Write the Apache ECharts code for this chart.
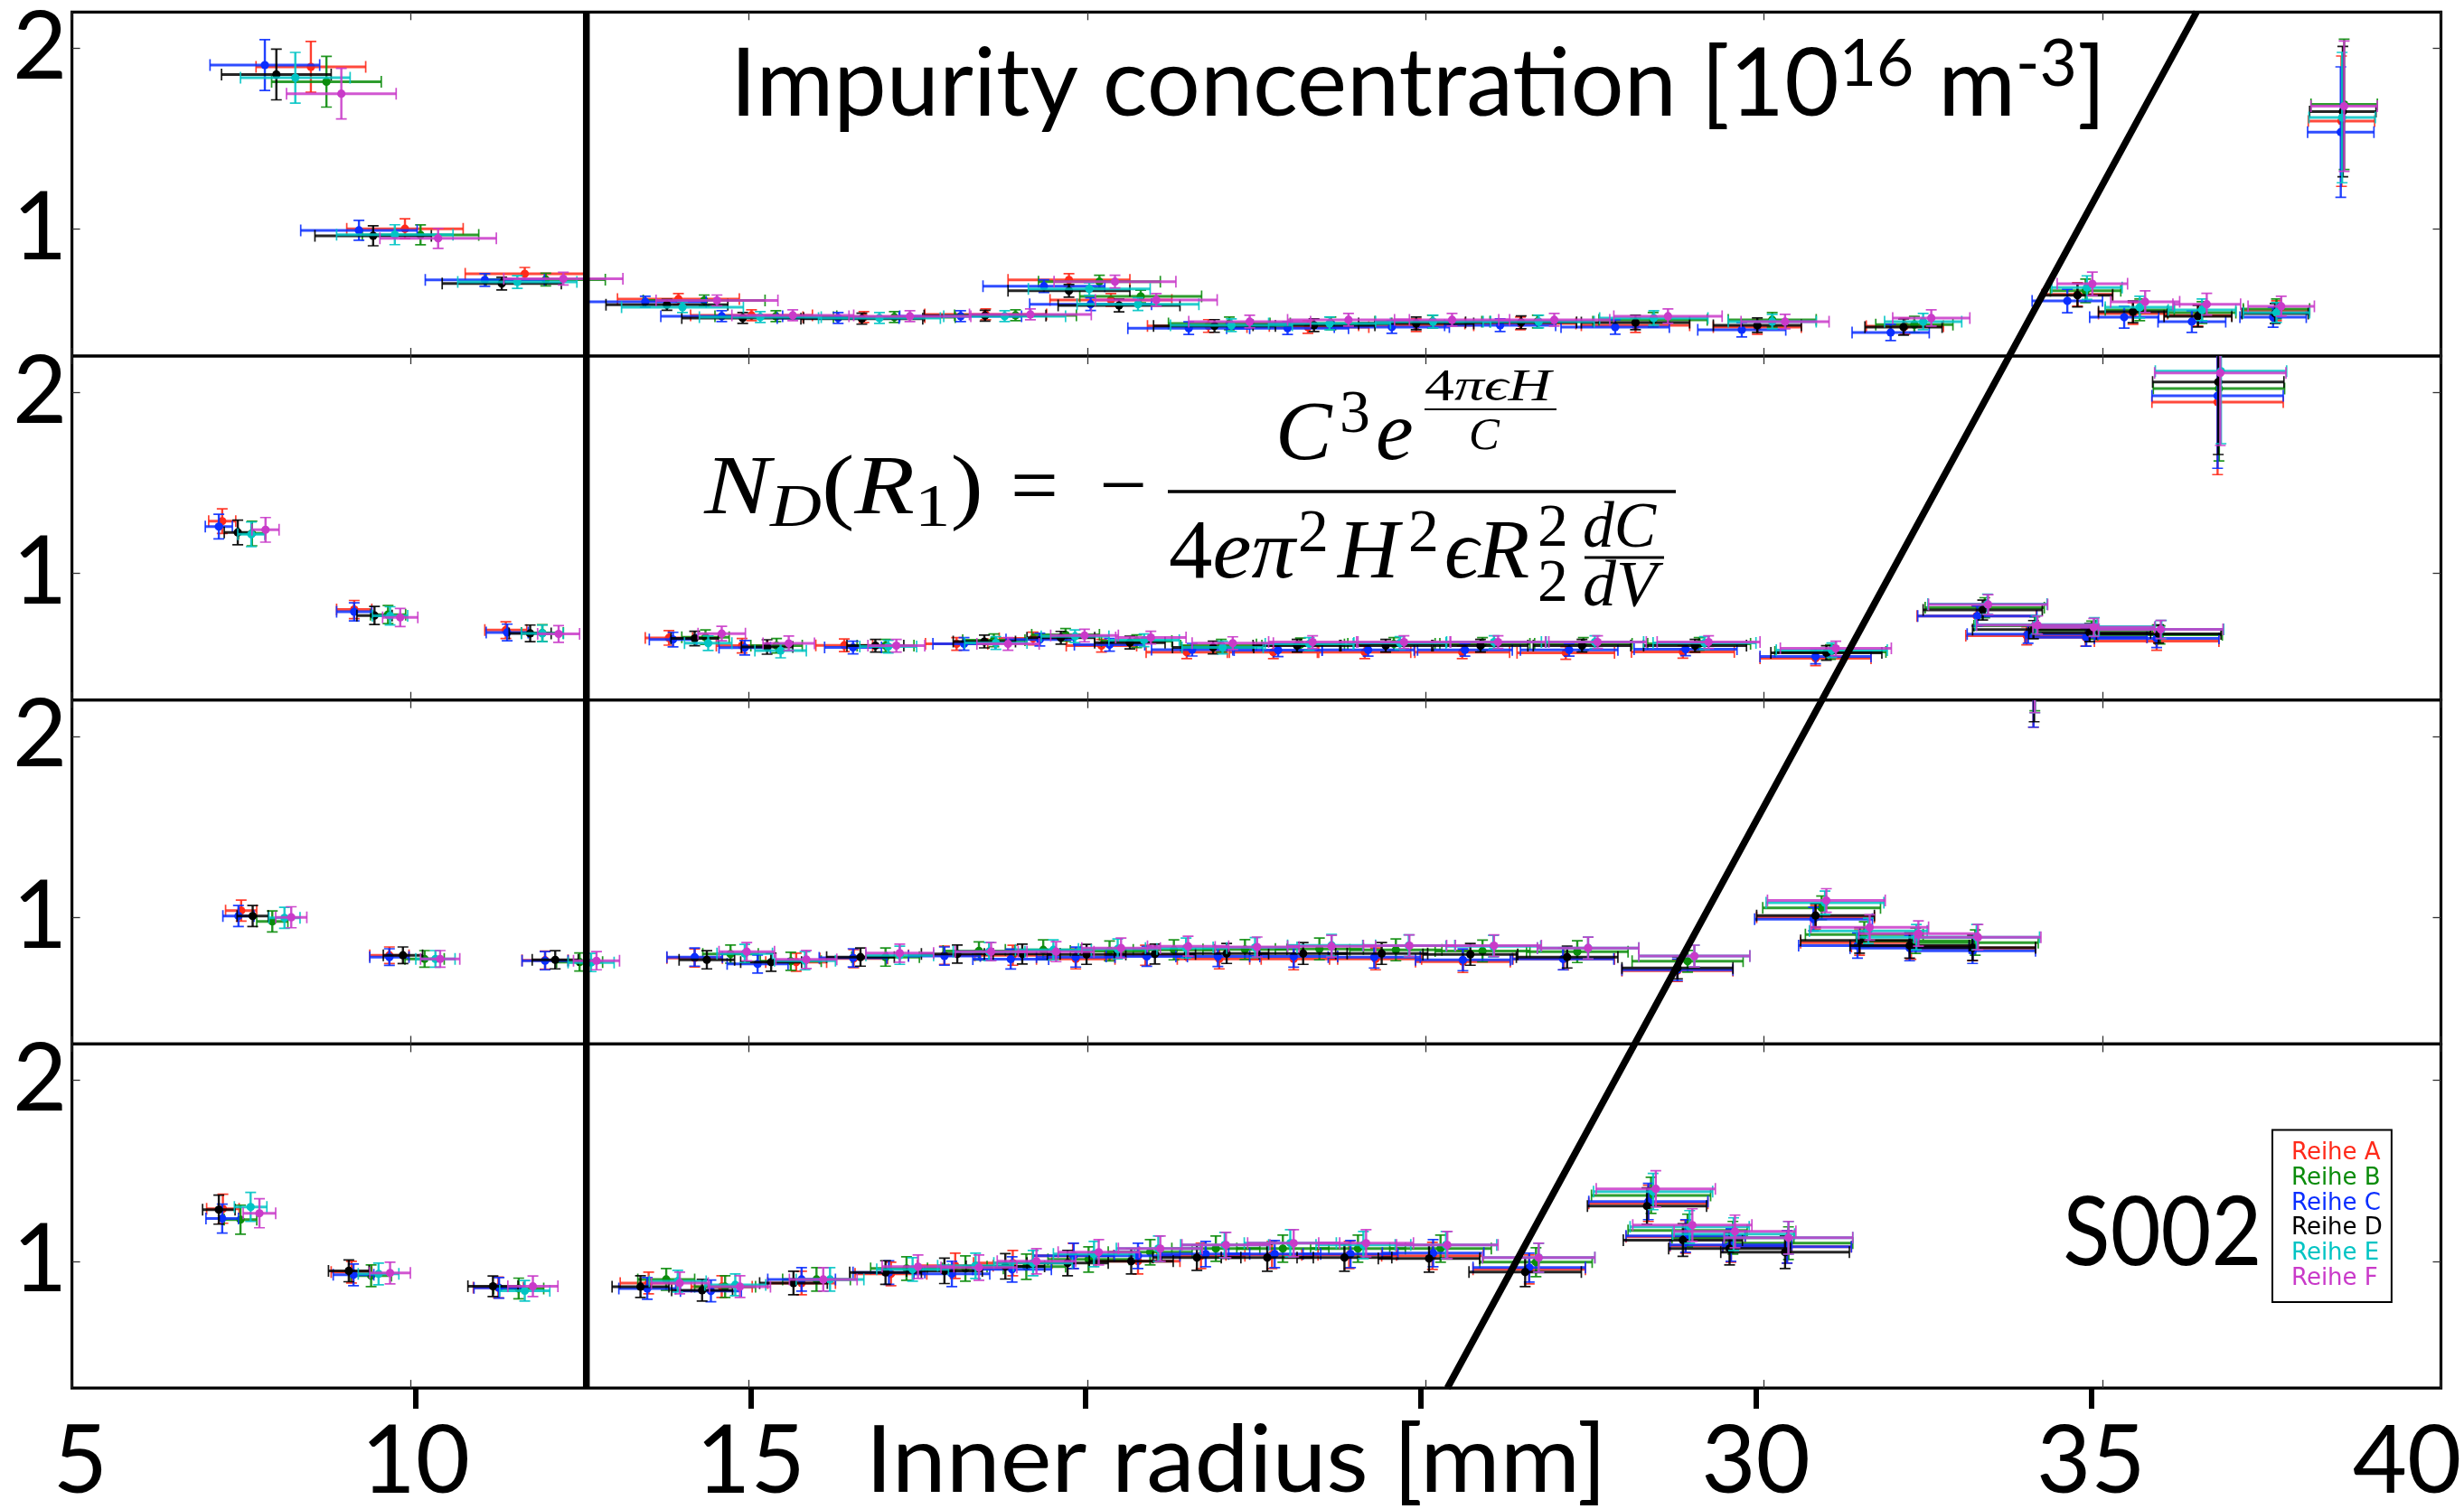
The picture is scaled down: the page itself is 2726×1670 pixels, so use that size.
<!DOCTYPE html>
<html><head><meta charset="utf-8">
<script src="https://cdn.jsdelivr.net/npm/echarts@6/dist/echarts.min.js"></script>
<style>html,body{margin:0;padding:0;background:#fff}#c{width:2726px;height:1670px}</style>
</head><body><div id="c"></div>
<script>
// ---------------- DATA ----------------
const SERIES_NAMES = ['Reihe A','Reihe B','Reihe C','Reihe D','Reihe E','Reihe F'];
const X_TICKS = [10,15,20,25,30,35];
const X_LABELS = [5,10,15,30,35,40];
const Y_TICKS = [1,2];
const VLINE = [[12.6,0],[12.6,1]];
const DIAG = [[25.32,0],[36.39,1]];

// Panel 1 (top)
const P1_A = [[8.53,1.897],[9.92,1.003],[11.69,0.754],[13.96,0.615],[15.04,0.525],[16.7,0.515],[18.5,0.53],[19.73,0.72],[20.35,0.61],[21.79,0.466],[23.26,0.46],[24.86,0.47],[26.4,0.48],[28.1,0.47],[29.9,0.46],[32.08,0.465],[34.63,0.64],[35.45,0.535],[36.41,0.525],[37.57,0.55],[38.53,1.597]];
const P1_B = [[8.76,1.815],[10.15,0.969],[12.0,0.722],[14.34,0.607],[15.4,0.52],[17.15,0.515],[18.94,0.525],[20.18,0.711],[20.79,0.629],[22.1,0.48],[23.6,0.48],[25.1,0.49],[26.65,0.49],[28.36,0.5],[30.12,0.5],[32.22,0.474],[34.75,0.66],[35.55,0.555],[36.47,0.54],[37.57,0.56],[38.57,1.69]];
const P1_C = [[7.85,1.907],[9.24,0.994],[11.1,0.72],[13.47,0.6],[14.6,0.52],[16.32,0.51],[18.13,0.52],[19.36,0.686],[20.05,0.586],[21.5,0.454],[22.96,0.454],[24.5,0.46],[26.1,0.47],[27.8,0.46],[29.67,0.445],[31.87,0.43],[34.48,0.604],[35.32,0.514],[36.32,0.49],[37.52,0.514],[38.52,1.537]];
const P1_D = [[8.02,1.855],[9.45,0.964],[11.35,0.7],[13.79,0.583],[14.91,0.51],[16.67,0.506],[18.49,0.523],[19.73,0.66],[20.47,0.579],[21.88,0.466],[23.35,0.47],[24.86,0.48],[26.41,0.486],[28.1,0.485],[29.9,0.47],[32.06,0.46],[34.63,0.636],[35.45,0.544],[36.41,0.52],[37.55,0.535],[38.55,1.65]];
const P1_E = [[8.3,1.837],[9.77,0.97],[11.58,0.709],[14.02,0.57],[15.17,0.515],[16.93,0.51],[18.78,0.52],[20.03,0.67],[20.75,0.586],[22.13,0.47],[23.58,0.48],[25.11,0.49],[26.67,0.49],[28.37,0.51],[30.12,0.49],[32.35,0.49],[34.77,0.678],[35.55,0.57],[36.47,0.555],[37.57,0.54],[38.54,1.617]];
const P1_F = [[8.98,1.749],[10.41,0.95],[12.26,0.727],[14.53,0.607],[15.65,0.525],[17.38,0.52],[19.16,0.53],[20.41,0.711],[21.02,0.61],[22.4,0.49],[23.86,0.5],[25.39,0.5],[26.9,0.5],[28.58,0.52],[30.31,0.49],[32.47,0.51],[34.85,0.699],[35.63,0.6],[36.54,0.586],[37.64,0.575],[38.57,1.68]];
const P1_XERR = [0.81,0.86,0.88,0.9,0.9,0.9,0.9,0.9,0.9,0.9,0.9,0.85,0.82,0.8,0.65,0.57,0.52,0.51,0.5,0.49,0.49];
const P1_YERR = [0.14,0.055,0.035,0.03,0.03,0.03,0.03,0.035,0.035,0.035,0.035,0.035,0.035,0.04,0.04,0.045,0.065,0.06,0.06,0.055,0.36];

// Panel 2
const P2_A = [[7.22,1.288],[9.17,0.8],[11.41,0.686],[13.82,0.643],[14.9,0.6],[16.41,0.602],[18.07,0.61],[19.2,0.64],[20.21,0.6],[21.47,0.564],[22.75,0.564],[24.1,0.564],[25.54,0.564],[27.07,0.56],[28.8,0.566],[30.76,0.53],[33.14,0.764],[33.88,0.655],[34.75,0.647],[35.8,0.625],[36.7,1.945]];
const P2_B = [[7.66,1.22],[9.67,0.772],[11.95,0.67],[14.36,0.647],[15.41,0.6],[17.02,0.6],[18.62,0.63],[19.68,0.66],[20.73,0.625],[21.98,0.6],[23.15,0.607],[24.53,0.61],[25.84,0.61],[27.33,0.61],[29.04,0.61],[30.98,0.565],[33.26,0.81],[34.0,0.71],[34.84,0.686],[35.85,0.66],[36.72,2.02]];
const P2_C = [[7.17,1.258],[9.17,0.787],[11.43,0.673],[13.88,0.634],[14.94,0.589],[16.54,0.59],[18.18,0.61],[19.3,0.634],[20.33,0.605],[21.55,0.578],[22.82,0.575],[24.15,0.577],[25.58,0.577],[27.12,0.577],[28.84,0.58],[30.76,0.54],[33.15,0.764],[33.9,0.664],[34.76,0.647],[35.8,0.64],[36.7,1.98]];
const P2_D = [[7.45,1.226],[9.47,0.767],[11.77,0.668],[14.2,0.64],[15.27,0.593],[16.87,0.6],[18.48,0.623],[19.61,0.644],[20.63,0.617],[21.86,0.59],[23.1,0.6],[24.41,0.6],[25.81,0.6],[27.31,0.6],[28.98,0.6],[30.92,0.56],[33.23,0.797],[33.98,0.689],[34.81,0.672],[35.83,0.665],[36.71,2.056]];
const P2_E = [[7.65,1.215],[9.7,0.765],[11.95,0.668],[14.4,0.614],[15.47,0.573],[17.06,0.595],[18.65,0.615],[19.82,0.652],[20.84,0.63],[22.0,0.59],[23.28,0.61],[24.62,0.615],[26.01,0.62],[27.5,0.62],[29.12,0.615],[31.0,0.575],[33.3,0.83],[34.02,0.716],[34.88,0.705],[35.87,0.69],[36.75,2.116]];
const P2_F = [[7.86,1.24],[9.85,0.756],[12.19,0.665],[14.6,0.667],[15.59,0.613],[17.18,0.6],[18.83,0.61],[19.96,0.656],[20.94,0.645],[22.15,0.614],[23.33,0.62],[24.68,0.62],[26.07,0.62],[27.54,0.62],[29.18,0.62],[31.06,0.585],[33.31,0.827],[34.04,0.714],[34.87,0.701],[35.86,0.69],[36.74,2.106]];
const P2_XERR = [0.2,0.26,0.31,0.35,0.38,0.42,0.46,0.5,0.52,0.6,0.65,0.68,0.7,0.72,0.76,0.82,0.88,0.9,0.9,0.92,0.97];
const P2_YERR = [0.068,0.05,0.046,0.04,0.04,0.035,0.035,0.035,0.035,0.035,0.035,0.035,0.035,0.035,0.035,0.04,0.055,0.05,0.05,0.05,0.4];

// Panel 3
const P3_A = [[7.5,1.037],[9.69,0.79],[11.99,0.763],[14.2,0.775],[15.7,0.752],[16.55,0.772],[17.89,0.79],[18.9,0.79],[19.83,0.77],[20.86,0.79],[21.95,0.77],[23.05,0.77],[24.26,0.77],[25.55,0.755],[27.04,0.77],[28.72,0.705],[30.76,1.0],[31.41,0.86],[32.17,0.838],[33.08,0.83],[33.98,2.47]];
const P3_B = [[7.96,0.977],[10.21,0.77],[12.5,0.753],[14.73,0.797],[15.62,0.757],[17.02,0.78],[18.4,0.814],[19.35,0.82],[20.33,0.814],[21.28,0.82],[22.33,0.822],[23.43,0.825],[24.56,0.82],[25.84,0.814],[27.24,0.81],[28.87,0.757],[30.85,1.052],[31.48,0.905],[32.24,0.87],[33.12,0.86],[34.0,2.56]];
const P3_C = [[7.46,1.007],[9.69,0.78],[11.99,0.76],[14.2,0.78],[15.13,0.742],[16.54,0.776],[17.89,0.786],[18.87,0.769],[19.83,0.78],[20.88,0.784],[21.93,0.783],[23.05,0.784],[24.24,0.78],[25.55,0.765],[27.03,0.77],[28.72,0.71],[30.73,0.99],[31.38,0.844],[32.15,0.83],[33.08,0.815],[33.98,2.47]];
const P3_D = [[7.67,1.007],[9.89,0.79],[12.14,0.765],[14.38,0.765],[15.33,0.752],[16.65,0.78],[18.08,0.797],[19.04,0.797],[19.99,0.795],[21.0,0.797],[22.06,0.8],[23.19,0.8],[24.35,0.8],[25.66,0.795],[27.09,0.78],[28.72,0.72],[30.76,1.01],[31.41,0.872],[32.15,0.844],[33.08,0.832],[33.99,2.5]];
const P3_E = [[8.14,0.997],[10.37,0.77],[12.67,0.75],[14.94,0.8],[15.83,0.76],[17.23,0.79],[18.55,0.81],[19.5,0.82],[20.45,0.825],[21.46,0.83],[22.48,0.833],[23.61,0.845],[24.75,0.843],[26.0,0.84],[27.4,0.83],[28.97,0.786],[30.9,1.08],[31.54,0.925],[32.25,0.89],[33.14,0.89],[34.0,2.55]];
const P3_F = [[8.24,1.0],[10.44,0.77],[12.75,0.76],[14.97,0.81],[15.85,0.767],[17.23,0.802],[18.58,0.81],[19.54,0.81],[20.5,0.83],[21.49,0.84],[22.51,0.836],[23.61,0.84],[24.76,0.843],[26.01,0.843],[27.4,0.83],[28.97,0.786],[30.92,1.093],[31.56,0.944],[32.28,0.91],[33.16,0.89],[34.0,2.55]];
const P3_XERR = [0.23,0.29,0.34,0.41,0.45,0.5,0.53,0.56,0.58,0.6,0.62,0.65,0.68,0.7,0.75,0.82,0.87,0.87,0.88,0.93,0.9];
const P3_YERR = [0.058,0.046,0.05,0.05,0.05,0.05,0.05,0.055,0.055,0.055,0.055,0.06,0.06,0.06,0.06,0.06,0.065,0.07,0.07,0.07,0.42];

// Panel 4 (bottom)
const P4_A = [[7.23,1.29],[9.13,0.94],[11.3,0.855],[13.52,0.88],[14.6,0.86],[15.78,0.88],[17.1,0.93],[18.05,0.975],[18.9,0.99],[19.79,1.03],[20.75,1.0],[21.68,1.03],[22.73,1.035],[23.87,1.035],[25.1,1.03],[26.53,0.955],[28.29,1.32],[28.84,1.135],[29.51,1.085],[30.34,1.08]];
const P4_B = [[7.49,1.23],[9.42,0.92],[11.6,0.85],[13.78,0.9],[14.65,0.86],[16.0,0.9],[17.33,0.96],[18.2,0.96],[19.1,0.97],[20.02,1.01],[20.93,1.05],[21.9,1.07],[22.89,1.07],[24.0,1.07],[25.22,1.07],[26.63,0.995],[28.33,1.364],[28.87,1.17],[29.54,1.13],[30.36,1.1]];
const P4_C = [[7.22,1.236],[9.16,0.925],[11.31,0.853],[13.5,0.85],[14.44,0.836],[15.78,0.9],[17.07,0.938],[18.0,0.93],[18.89,0.955],[19.8,1.03],[20.75,1.03],[21.75,1.04],[22.77,1.04],[23.89,1.04],[25.11,1.045],[26.53,0.965],[28.29,1.33],[28.84,1.14],[29.51,1.09],[30.34,1.08]];
const P4_D = [[7.17,1.285],[9.09,0.947],[11.22,0.862],[13.4,0.86],[14.31,0.84],[15.66,0.88],[17.02,0.938],[17.89,0.947],[18.79,0.972],[19.71,0.99],[20.65,1.0],[21.62,1.02],[22.66,1.02],[23.8,1.02],[25.05,1.015],[26.47,0.94],[28.27,1.305],[28.8,1.117],[29.49,1.07],[30.31,1.05]];
const P4_E = [[7.64,1.3],[9.53,0.93],[11.69,0.837],[13.95,0.89],[14.8,0.87],[16.2,0.9],[17.42,0.955],[18.35,0.975],[19.2,0.99],[20.1,1.04],[21.05,1.07],[22.03,1.09],[23.0,1.1],[24.08,1.09],[25.3,1.09],[26.67,1.02],[28.36,1.385],[28.9,1.19],[29.55,1.15],[30.36,1.13]];
const P4_F = [[7.77,1.265],[9.7,0.935],[11.81,0.862],[13.98,0.88],[14.87,0.86],[16.1,0.9],[17.5,0.97],[18.4,0.965],[19.25,1.0],[20.17,1.05],[21.08,1.07],[22.05,1.09],[23.05,1.1],[24.12,1.1],[25.32,1.09],[26.67,1.02],[28.4,1.4],[28.94,1.2],[29.57,1.165],[30.36,1.13]];
const P4_XERR = [0.24,0.3,0.37,0.42,0.45,0.5,0.53,0.56,0.58,0.6,0.62,0.65,0.68,0.7,0.75,0.83,0.88,0.88,0.9,0.95];
const P4_YERR = [0.08,0.06,0.057,0.06,0.06,0.065,0.065,0.07,0.07,0.07,0.07,0.07,0.075,0.075,0.075,0.08,0.1,0.09,0.09,0.09];

// ---------------- STYLE / LAYOUT ----------------
const COLORS = ['#ff2a1a','#0b8c0b','#0a2eff','#000000','#00c4c4','#c93ac9'];
const PANELS = [
  {series:[P1_A,P1_B,P1_C,P1_D,P1_E,P1_F], xerr:P1_XERR, yerr:P1_YERR},
  {series:[P2_A,P2_B,P2_C,P2_D,P2_E,P2_F], xerr:P2_XERR, yerr:P2_YERR},
  {series:[P3_A,P3_B,P3_C,P3_D,P3_E,P3_F], xerr:P3_XERR, yerr:P3_YERR},
  {series:[P4_A,P4_B,P4_C,P4_D,P4_E,P4_F], xerr:P4_XERR, yerr:P4_YERR}
];
const W = 2726, H = 1670;
const G_LEFT = 79.6, G_RIGHT = 2700.5, G_TOP = 13.3, PANEL_H = 380.7;
const G_BOTTOM = G_TOP + 4 * PANEL_H;
const SANS = "Lato, 'Open Sans', sans-serif";
const SERIF = "'Liberation Serif', 'DejaVu Serif', serif";

// text measurement helpers
const MC = document.createElement('canvas').getContext('2d');
function meas(text, font, bl) { MC.font = font; MC.textBaseline = bl || 'alphabetic'; return MC.measureText(text); }
function fontOf(size, family, italic) { return (italic ? 'italic ' : '') + size + 'px ' + family; }
function mInfo(text, font) {
  const a = meas(text, font, 'alphabetic');
  const hm = meas('H', font, 'middle');
  const ha = meas('H', font, 'alphabetic');
  return {adv: a.width, L: a.actualBoundingBoxLeft, R: a.actualBoundingBoxRight, asc: a.actualBoundingBoxAscent,
          off: hm.actualBoundingBoxDescent - ha.actualBoundingBoxDescent};
}
function textEl(text, x, baseline, size, family, italic, off) {
  return {type:'text', silent:true, z:50, style:{text:text, x:x, y:baseline - off, fontSize:size, fontFamily:family,
    fontStyle: italic ? 'italic' : 'normal', fill:'#000', align:'left', verticalAlign:'middle', textAlign:'left', textVerticalAlign:'middle'}};
}
function placeAt(text, inkLeft, baseline, size, family, italic) {
  const m = mInfo(text, fontOf(size, family, italic));
  return textEl(text, inkLeft + m.L, baseline, size, family, italic, m.off);
}
function fitLine(pieces, inkLeft, inkRight, family) {
  let x = 0, L = Infinity, R = -Infinity; const kids = [];
  pieces.forEach(p => {
    const m = mInfo(p.t, fontOf(p.size, family, p.italic));
    L = Math.min(L, x - m.L); R = Math.max(R, x + m.R);
    kids.push(textEl(p.t, x, p.base, p.size, family, p.italic, m.off));
    x += m.adv;
  });
  const k = (inkRight - inkLeft) / (R - L);
  return {type:'group', x: inkLeft - k * L, y: 0, scaleX: k, z:50, children: kids};
}
function hline(x1, x2, y, w) { return {type:'line', silent:true, z:50, shape:{x1:x1, y1:y, x2:x2, y2:y}, style:{stroke:'#000', lineWidth:w}}; }

const capSans = mInfo('H', '100px ' + SANS).asc / 100;
const capSerif = mInfo('H', '100px ' + SERIF).asc / 100;
const FS = Math.round(76 / capSans);
// bottom label margin so digit tops land at y=1576
const lhTick = meas('\u56fd', FS + 'px ' + SANS).width;
const ascMid = meas('10', FS + 'px ' + SANS, 'middle').actualBoundingBoxAscent;
const MARGIN_X = (1576 - G_BOTTOM) - lhTick / 2 + ascMid;
const m2 = mInfo('2', FS + 'px ' + SANS);
const MARGIN_Y = Math.max(2, G_LEFT - 69 - (m2.adv - m2.R));

// ---------------- OPTION ----------------
const grids = [], xAxes = [], yAxes = [], series = [];
const tickStyle = {color:'#333', width:1.3};
for (let i = 0; i < 4; i++) {
  grids.push({left:G_LEFT, width:G_RIGHT - G_LEFT, top:G_TOP + i * PANEL_H, height:PANEL_H, show:true,
    borderColor:'#000', borderWidth:3.2, backgroundColor:'transparent', outerBoundsMode:'none', containLabel:false});
  ['bottom','top'].forEach(pos => xAxes.push({gridIndex:i, type:'value', min:5, max:40, interval:5, position:pos,
    axisLine:{show:false}, axisTick:{show:true, inside:true, length:9, lineStyle:tickStyle},
    axisLabel:{show:false}, splitLine:{show:false}}));
  yAxes.push({gridIndex:i, type:'value', min:0.3, max:2.2, position:'left', axisLine:{show:false},
    axisTick:{show:true, inside:true, length:9, customValues:Y_TICKS, lineStyle:tickStyle},
    axisLabel:{show:true, customValues:Y_TICKS, fontSize:FS, fontFamily:SANS, color:'#000', margin:MARGIN_Y},
    splitLine:{show:false}});
  yAxes.push({gridIndex:i, type:'value', min:0.3, max:2.2, position:'right', axisLine:{show:false},
    axisTick:{show:true, inside:true, length:9, customValues:Y_TICKS, lineStyle:tickStyle},
    axisLabel:{show:false}, splitLine:{show:false}});
}
// overlay grid for reference lines
grids.push({left:G_LEFT, width:G_RIGHT - G_LEFT, top:G_TOP, height:4 * PANEL_H, show:false, outerBoundsMode:'none'});
xAxes.push({gridIndex:4, type:'value', min:5, max:40, show:false});
yAxes.push({gridIndex:4, type:'value', min:0, max:1, show:false});
// label axis grid (slightly offset, as in the reference)
grids.push({left:89, width:2684 - 89, top:G_TOP, height:4 * PANEL_H, show:false, outerBoundsMode:'none'});
xAxes.push({gridIndex:5, type:'value', min:5, max:40, position:'bottom', axisLine:{show:false},
  axisTick:{show:true, inside:false, length:23, customValues:X_TICKS, lineStyle:{color:'#000', width:6}},
  axisLabel:{show:true, customValues:X_LABELS, fontSize:FS, fontFamily:SANS, color:'#000', margin:MARGIN_X,
    formatter: v => (v === 40 ? '{e|40}' : String(v)),
    rich:{e:{fontSize:FS, fontFamily:SANS, color:'#000', padding:[0, 42, 0, 0]}}},
  splitLine:{show:false}});
yAxes.push({gridIndex:5, type:'value', min:0, max:1, show:false});

function makeRender(color) {
  return function (params, api) {
    const x = api.value(0), y = api.value(1), xe = api.value(2), ye = api.value(3);
    const c = api.coord([x, y]);
    const l = api.coord([x - xe, y])[0], r = api.coord([x + xe, y])[0];
    const t = api.coord([x, y + ye])[1], b = api.coord([x, y - ye])[1];
    const cs = params.coordSys;
    const bar = {stroke:color, lineWidth:3, opacity:0.85};
    const vbar = {stroke:color, lineWidth:2.4, opacity:0.9};
    const cap = {stroke:color, lineWidth:1.7, opacity:0.9};
    return {type:'group', clipPath:{type:'rect', shape:{x:cs.x, y:cs.y, width:cs.width, height:cs.height}}, children:[
      {type:'line', shape:{x1:l, y1:c[1], x2:r, y2:c[1]}, style:bar},
      {type:'line', shape:{x1:l, y1:c[1] - 6.5, x2:l, y2:c[1] + 6.5}, style:cap},
      {type:'line', shape:{x1:r, y1:c[1] - 6.5, x2:r, y2:c[1] + 6.5}, style:cap},
      {type:'line', shape:{x1:c[0], y1:t, x2:c[0], y2:b}, style:vbar},
      {type:'line', shape:{x1:c[0] - 6, y1:t, x2:c[0] + 6, y2:t}, style:cap},
      {type:'line', shape:{x1:c[0] - 6, y1:b, x2:c[0] + 6, y2:b}, style:cap},
      {type:'circle', shape:{cx:c[0], cy:c[1], r:4.6}, style:{fill:color}}
    ]};
  };
}
PANELS.forEach((p, i) => {
  p.series.forEach((pts, s) => {
    series.push({type:'custom', name:SERIES_NAMES[s], xAxisIndex:2 * i, yAxisIndex:2 * i, clip:true, silent:true,
      itemStyle:{color:COLORS[s]}, renderItem:makeRender(COLORS[s]),
      encode:{x:0, y:1},
      data: pts.map((pt, k) => [pt[0], pt[1], p.xerr[k], p.yerr[k]])});
  });
});
[VLINE, DIAG].forEach(d => series.push({type:'line', xAxisIndex:8, yAxisIndex:8, data:d, symbol:'none', silent:true,
  lineStyle:{color:'#000', width:7.5}, z:20, clip:false}));

// ---------------- ANNOTATIONS ----------------
const T_MAIN = 76 / capSans, T_SUP = 52 / capSans;
const S1 = 61 / capSerif, S2 = 44 / capSerif, S3 = 33 / capSerif, S4 = 47 / capSerif;
const gfx = [
  fitLine([{t:'Impurity concentration [10', size:T_MAIN, base:128}, {t:'16', size:T_SUP, base:95},
           {t:' m', size:T_MAIN, base:128}, {t:'-3', size:T_SUP, base:95}, {t:']', size:T_MAIN, base:128}], 817, 2321, SANS),
  fitLine([{t:'Inner radius [mm]', size:74.5 / capSans, base:1650.5}], 967, 1768, SANS),
  fitLine([{t:'S002', size:78 / capSans, base:1400}], 2285, 2498, SANS),
  // formula: left side
  fitLine([{t:'N', size:S1, base:568, italic:true}, {t:'D', size:S2, base:582, italic:true},
           {t:'(', size:S1, base:568}, {t:'R', size:S1, base:568, italic:true},
           {t:'1', size:S2, base:582}, {t:')', size:S1, base:568}], 778, 1084, SERIF),
  placeAt('=', 1122, 568, S1, SERIF, false),
  placeAt('\u2212', 1220, 568, S1, SERIF, false),
  hline(1292, 1854, 544, 3.5),
  // numerator
  placeAt('C', 1416, 508, S1, SERIF, true),
  placeAt('3', 1485, 478, S2, SERIF, false),
  placeAt('e', 1524, 508, S1, SERIF, true),
  fitLine([{t:'4', size:S3, base:443}, {t:'\u03c0\u03f5H', size:S3, base:443, italic:true}], 1576, 1719, SERIF),
  hline(1576, 1722, 453, 2.2),
  placeAt('C', 1627, 497, S3, SERIF, true),
  // denominator
  fitLine([{t:'4', size:S1, base:639}, {t:'e\u03c0', size:S1, base:639, italic:true}], 1294, 1436, SERIF),
  placeAt('2', 1438, 610, S2, SERIF, false),
  placeAt('H', 1478, 639, S1, SERIF, true),
  placeAt('2', 1560, 610, S2, SERIF, false),
  placeAt('\u03f5', 1600, 639, S1, SERIF, true),
  placeAt('R', 1634, 639, S1, SERIF, true),
  placeAt('2', 1703, 604, S2, SERIF, false),
  placeAt('2', 1703, 665, S2, SERIF, false),
  fitLine([{t:'dC', size:S4, base:605, italic:true}], 1753, 1833, SERIF),
  hline(1753, 1841, 617, 3),
  fitLine([{t:'dV', size:S4, base:670, italic:true}], 1753, 1841, SERIF)
];

const option = {
  animation:false,
  backgroundColor:'#fff',
  grid:grids, xAxis:xAxes, yAxis:yAxes, series:series,
  legend:{orient:'vertical', left:2514, top:1250.5, padding:[13,10,13,16], itemGap:1.7, itemWidth:0, itemHeight:0,
    icon:'rect', itemStyle:{opacity:0}, borderColor:'#000', borderWidth:2, backgroundColor:'#fff', selectedMode:false,
    textStyle:{fontSize:26, fontFamily:"'DejaVu Sans', sans-serif", padding:0},
    data: SERIES_NAMES.map((n, i) => ({name:n, textStyle:{color:COLORS[i]}}))},
  graphic:{elements:gfx}
};
const chart = echarts.init(document.getElementById('c'), null, {renderer:'canvas', width:W, height:H});
chart.setOption(option);
</script></body></html>
